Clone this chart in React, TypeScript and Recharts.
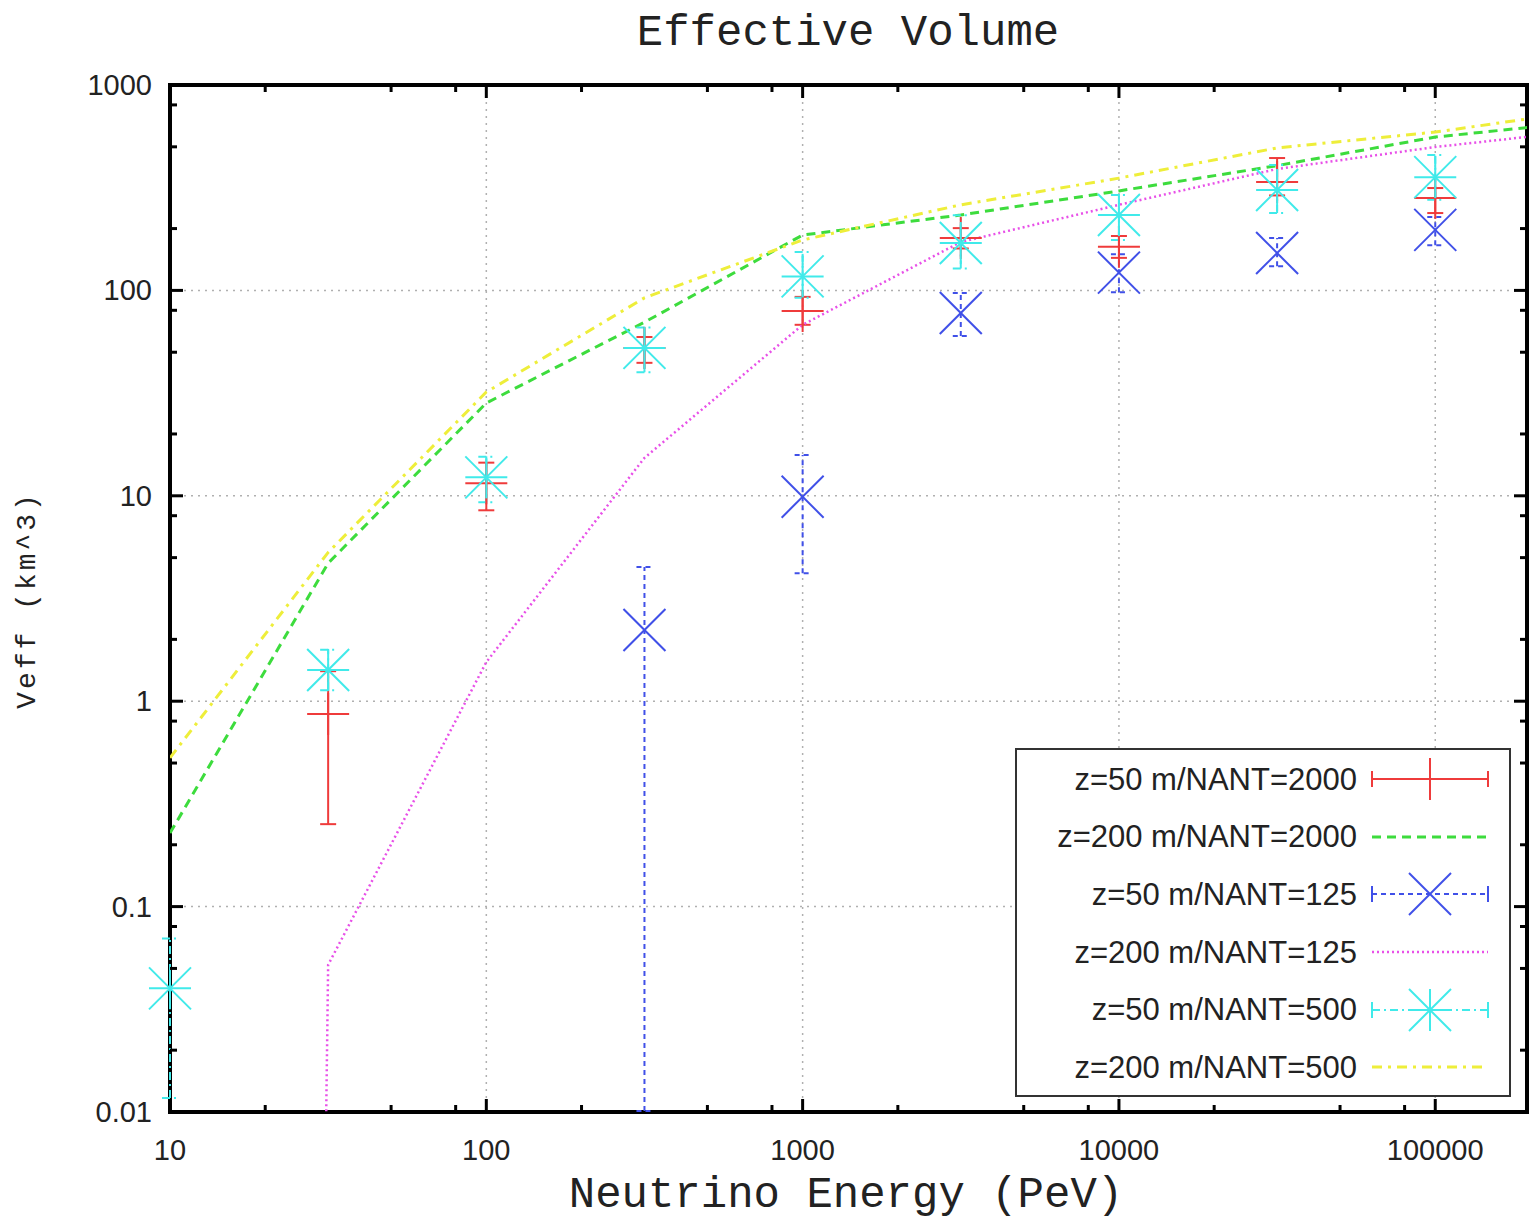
import type { ReactNode } from 'react'
import {
  ComposedChart,
  ErrorBar,
  Legend,
  Line,
  ReferenceArea,
  ReferenceLine,
  Scatter,
  XAxis,
  YAxis,
} from 'recharts'

// energies (PeV) for the simulated curves, last one sits past the right edge
const curveEnergy = [10, 31.62, 100, 316.2, 1000, 3162, 10000, 31623, 100000, 316228]
const veffZ200N2000 = [0.228, 4.7, 28.3, 70, 186, 233, 305, 405, 558, 670]
const veffZ200N125 = [1e-60, 0.052, 1.55, 15.3, 68, 172, 261, 390, 499, 607]
const veffZ200N500 = [0.53, 5.3, 32, 92, 176, 261, 352, 494, 590, 760]

// z=50 m points with error bars
const energyN2000 = [31.62, 100, 316.2, 1000, 3162, 10000, 31623, 100000]
const veffN2000 = [0.867, 11.5, 52.5, 79.4, 180, 163, 337, 282]
const lowN2000 = [0.252, 8.5, 44.4, 68, 160, 144, 290, 238]
const highN2000 = [1.4, 14.5, 59.3, 93, 201, 184, 441, 315]

const energyN125 = [316.2, 1000, 3162, 10000, 31623, 100000]
const veffN125 = [2.22, 9.9, 77.6, 122, 152, 197]
const lowN125 = [0.0101, 4.2, 60, 98, 131, 166]
const highN125 = [4.5, 15.8, 97, 150, 180, 228]

const energyN500 = [10, 31.62, 100, 316.2, 1000, 3162, 10000, 31623, 100000]
const veffN500 = [0.04, 1.42, 12.3, 52.5, 117, 170, 233, 308, 356]
const lowN500 = [0.0117, 1.13, 9.3, 40, 92, 128, 176, 238, 276]
const highN500 = [0.07, 1.78, 15.5, 66, 154, 232, 291, 408, 456]

const xTicks = [10, 20, 50, 80, 100, 200, 500, 800, 1000, 2000, 5000, 8000, 10000, 20000, 50000, 80000, 100000]
const yTicks = [0.01, 0.02, 0.05, 0.08, 0.1, 0.2, 0.5, 0.8, 1, 2, 5, 8, 10, 20, 50, 80, 100, 200, 500, 800, 1000]
const xGrid = [100, 1000, 10000, 100000]
const yGrid = [0.1, 1, 10, 100]

const X_DOMAIN: [number, number] = [10, 195000]
const Y_DOMAIN: [number, number] = [0.01, 1000]

const W = 1529
const H = 1218
const PLOT = { left: 170, top: 85, right: 1527, bottom: 1112 }

const RED = '#ef3b3b'
const GREEN = '#3ddc3d'
const BLUE = '#4050e8'
const MAGENTA = '#e850e8'
const CYAN = '#40eaea'
const YELLOW = '#eeee3a'

const SANS = '"Liberation Sans", Arial, sans-serif'
const MONO = '"Liberation Mono", "Courier New", monospace'

const curve = (vals: number[]) => curveEnergy.map((e, i) => ({ e, v: vals[i] }))
const points = (es: number[], vs: number[], lo: number[], hi: number[]) =>
  es.map((e, i) => ({ e, v: vs[i], err: [vs[i] - lo[i], hi[i] - vs[i]] }))

const isDecade = (v: number) => Math.abs(Math.log10(v) - Math.round(Math.log10(v))) < 1e-9

function XTick(props: any) {
  const { x, payload } = props
  const major = isDecade(payload.value)
  const len = major ? 13 : 7
  return (
    <g>
      <line x1={x} x2={x} y1={PLOT.bottom} y2={PLOT.bottom - len} stroke="#000" strokeWidth={3} />
      <line x1={x} x2={x} y1={PLOT.top} y2={PLOT.top + len} stroke="#000" strokeWidth={3} />
      {major && (
        <text x={x} y={1160} textAnchor="middle" fontFamily={SANS} fontSize={29} fill="#222">
          {payload.value}
        </text>
      )}
    </g>
  )
}

function YTick(props: any) {
  const { y, payload } = props
  const major = isDecade(payload.value)
  const len = major ? 13 : 7
  return (
    <g>
      <line x1={PLOT.left} x2={PLOT.left + len} y1={y} y2={y} stroke="#000" strokeWidth={3} />
      <line x1={PLOT.right} x2={PLOT.right - len} y1={y} y2={y} stroke="#000" strokeWidth={3} />
      {major && (
        <text x={152} y={y + 10} textAnchor="end" fontFamily={SANS} fontSize={29} fill="#222">
          {payload.value}
        </text>
      )}
    </g>
  )
}

const R = 21

function plusMark(cx: number, cy: number, color: string) {
  return (
    <g stroke={color} strokeWidth={2}>
      <line x1={cx - R} x2={cx + R} y1={cy} y2={cy} />
      <line x1={cx} x2={cx} y1={cy - R} y2={cy + R} />
    </g>
  )
}

function crossMark(cx: number, cy: number, color: string) {
  return (
    <g stroke={color} strokeWidth={2}>
      <line x1={cx - R} x2={cx + R} y1={cy - R} y2={cy + R} />
      <line x1={cx - R} x2={cx + R} y1={cy + R} y2={cy - R} />
    </g>
  )
}

function starMark(cx: number, cy: number, color: string) {
  return (
    <g stroke={color} strokeWidth={2}>
      <line x1={cx - R} x2={cx + R} y1={cy} y2={cy} />
      <line x1={cx} x2={cx} y1={cy - R} y2={cy + R} />
      <line x1={cx - R} x2={cx + R} y1={cy - R} y2={cy + R} />
      <line x1={cx - R} x2={cx + R} y1={cy + R} y2={cy - R} />
    </g>
  )
}

type Entry = {
  name: string
  color: string
  dash?: string
  width: number
  marker?: (cx: number, cy: number, color: string) => ReactNode
}

const legendEntries: Entry[] = [
  { name: 'z=50 m/NANT=2000', color: RED, width: 2, marker: plusMark },
  { name: 'z=200 m/NANT=2000', color: GREEN, dash: '9 6', width: 3 },
  { name: 'z=50 m/NANT=125', color: BLUE, dash: '5 4', width: 2, marker: crossMark },
  { name: 'z=200 m/NANT=125', color: MAGENTA, dash: '2 3', width: 2.5 },
  { name: 'z=50 m/NANT=500', color: CYAN, dash: '8 4 2 4', width: 2, marker: starMark },
  { name: 'z=200 m/NANT=500', color: YELLOW, dash: '10 6 3 6', width: 3 },
]

function LegendBox() {
  return (
    <div
      style={{
        boxSizing: 'border-box',
        width: 496,
        height: 349,
        border: '2px solid #333',
        background: '#fff',
        paddingTop: 1,
      }}
    >
      {legendEntries.map((entry) => (
        <div key={entry.name} style={{ display: 'flex', alignItems: 'center', height: 57.6 }}>
          <span
            style={{
              width: 340,
              textAlign: 'right',
              fontFamily: SANS,
              fontSize: 31,
              color: '#222',
              whiteSpace: 'nowrap',
            }}
          >
            {entry.name}
          </span>
          <svg width={140} height={57} style={{ marginLeft: 5, display: 'block' }}>
            <line
              x1={10}
              x2={126}
              y1={28}
              y2={28}
              stroke={entry.color}
              strokeWidth={entry.width}
              strokeDasharray={entry.dash}
            />
            {entry.marker && (
              <g>
                <line x1={10} x2={10} y1={20} y2={36} stroke={entry.color} strokeWidth={2} />
                <line x1={126} x2={126} y1={20} y2={36} stroke={entry.color} strokeWidth={2} />
                {entry.marker(68, 28, entry.color)}
              </g>
            )}
          </svg>
        </div>
      ))}
    </div>
  )
}

export default function App() {
  return (
    <div style={{ position: 'absolute', left: 0, top: 0, width: W, height: H, background: '#fff' }}>
      <ComposedChart width={W} height={H} margin={{ top: 85, right: 2, bottom: 0, left: 0 }}>
        <XAxis
          xAxisId="e"
          dataKey="e"
          type="number"
          scale="log"
          domain={X_DOMAIN}
          allowDataOverflow
          ticks={xTicks}
          interval={0}
          tick={XTick}
          tickLine={false}
          axisLine={false}
          height={106}
        />
        <YAxis
          yAxisId="v"
          dataKey="v"
          type="number"
          scale="log"
          domain={Y_DOMAIN}
          allowDataOverflow
          ticks={yTicks}
          interval={0}
          tick={YTick}
          tickLine={false}
          axisLine={false}
          width={170}
        />
        <XAxis xAxisId="pts" dataKey="e" type="number" scale="log" domain={X_DOMAIN} hide />
        <YAxis yAxisId="pts" dataKey="v" type="number" scale="log" domain={Y_DOMAIN} hide />

        {xGrid.map((g) => (
          <ReferenceLine
            key={`gx-${g}`}
            xAxisId="e"
            yAxisId="v"
            x={g}
            stroke="#b0b0b0"
            strokeWidth={1.5}
            strokeDasharray="2 5"
          />
        ))}
        {yGrid.map((g) => (
          <ReferenceLine
            key={`gy-${g}`}
            xAxisId="e"
            yAxisId="v"
            y={g}
            stroke="#b0b0b0"
            strokeWidth={1.5}
            strokeDasharray="2 5"
          />
        ))}

        <Scatter
          xAxisId="pts"
          yAxisId="pts"
          data={points(energyN2000, veffN2000, lowN2000, highN2000)}
          shape={(p: any) => plusMark(p.cx, p.cy, RED)}
          isAnimationActive={false}
        >
          <ErrorBar dataKey="err" direction="y" width={8} stroke={RED} strokeWidth={2} />
        </Scatter>
        <Line
          xAxisId="e"
          yAxisId="v"
          data={curve(veffZ200N2000)}
          dataKey="v"
          stroke={GREEN}
          strokeWidth={3}
          strokeDasharray="9 6"
          dot={false}
          activeDot={false}
          isAnimationActive={false}
        />
        <Scatter
          xAxisId="pts"
          yAxisId="pts"
          data={points(energyN125, veffN125, lowN125, highN125)}
          shape={(p: any) => crossMark(p.cx, p.cy, BLUE)}
          isAnimationActive={false}
        >
          <ErrorBar dataKey="err" direction="y" width={8} stroke={BLUE} strokeWidth={2} strokeDasharray="5 4" />
        </Scatter>
        <Line
          xAxisId="e"
          yAxisId="v"
          data={curve(veffZ200N125)}
          dataKey="v"
          stroke={MAGENTA}
          strokeWidth={2.5}
          strokeDasharray="2 3"
          dot={false}
          activeDot={false}
          isAnimationActive={false}
        />
        <Scatter
          xAxisId="pts"
          yAxisId="pts"
          data={points(energyN500, veffN500, lowN500, highN500)}
          shape={(p: any) => starMark(p.cx, p.cy, CYAN)}
          isAnimationActive={false}
        >
          <ErrorBar dataKey="err" direction="y" width={8} stroke={CYAN} strokeWidth={2} strokeDasharray="8 4 2 4" />
        </Scatter>
        <Line
          xAxisId="e"
          yAxisId="v"
          data={curve(veffZ200N500)}
          dataKey="v"
          stroke={YELLOW}
          strokeWidth={3}
          strokeDasharray="10 6 3 6"
          dot={false}
          activeDot={false}
          isAnimationActive={false}
        />

        <ReferenceArea
          xAxisId="e"
          yAxisId="v"
          x1={X_DOMAIN[0]}
          x2={X_DOMAIN[1]}
          y1={Y_DOMAIN[0]}
          y2={Y_DOMAIN[1]}
          fill="none"
          fillOpacity={0}
          stroke="#000"
          strokeWidth={4}
        />

        <Legend
          layout="horizontal"
          verticalAlign="middle"
          align="center"
          content={() => <LegendBox />}
          wrapperStyle={{ left: 1015, top: 748, width: 496, height: 349 }}
        />
      </ComposedChart>

      <div
        style={{
          position: 'absolute',
          left: 848,
          top: 11,
          transform: 'translateX(-50%)',
          fontFamily: MONO,
          fontSize: 44,
          lineHeight: '44px',
          color: '#222',
          whiteSpace: 'nowrap',
        }}
      >
        Effective Volume
      </div>
      <div
        style={{
          position: 'absolute',
          left: 846,
          top: 1173,
          transform: 'translateX(-50%)',
          fontFamily: MONO,
          fontSize: 44,
          lineHeight: '44px',
          color: '#222',
          whiteSpace: 'nowrap',
        }}
      >
        Neutrino Energy (PeV)
      </div>
      <div
        style={{
          position: 'absolute',
          left: 27,
          top: 600,
          transform: 'translate(-50%, -50%) rotate(-90deg)',
          fontFamily: MONO,
          fontSize: 28,
          letterSpacing: 3,
          color: '#222',
          whiteSpace: 'nowrap',
        }}
      >
        Veff (km^3)
      </div>
    </div>
  )
}
